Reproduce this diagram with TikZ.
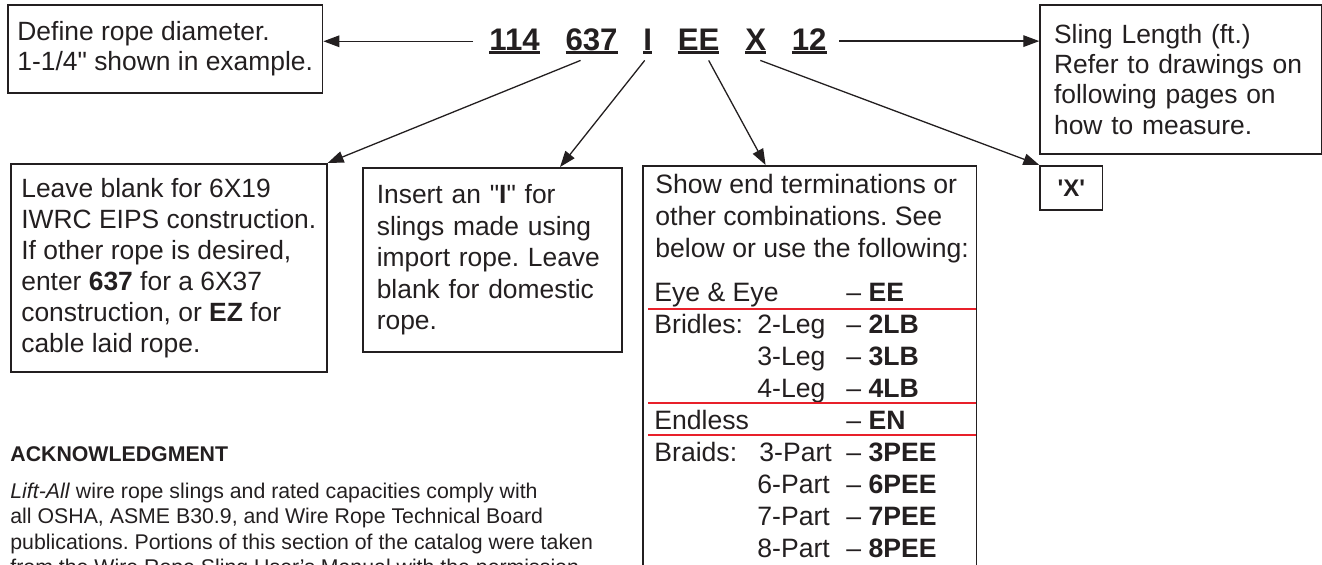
\documentclass[tikz,border=0pt]{standalone}
\usepackage{fontspec}
\setmainfont{Liberation Sans}
\usepackage{tikz}
\usetikzlibrary{arrows.meta, positioning, calc}
\frenchspacing
\definecolor{ink}{HTML}{231F20}
\definecolor{redline}{HTML}{E8202A}
\tikzstyle{note} = [rectangle, draw=ink, line width=0.8pt, text=ink, align=left, anchor=north west, font=\fontsize{13.2}{15}\selectfont]
\tikzstyle{tag} = [rectangle, draw=ink, line width=0.8pt, text=ink, anchor=north west, minimum width=31.2pt, minimum height=22pt, inner sep=0pt, font=\fontsize{12}{14}\selectfont\bfseries]
\tikzstyle{code} = [inner sep=0pt, text=ink, font=\fontsize{15.6}{18}\selectfont\bfseries]
\tikzstyle{row} = [inner sep=0pt, anchor=base west, text=ink, font=\fontsize{13.3}{16}\selectfont]
\tikzstyle{arrow} = [draw=ink, line width=0.65pt, -{Triangle[length=8pt,width=5.8pt]}]
\tikzstyle{redrule} = [draw=redline, line width=0.75pt]
\newcommand{\ucode}[1]{\setbox0=\hbox{#1}\rlap{\copy0}\rule[-2pt]{\wd0}{1.6pt}}

\begin{document}
\begin{tikzpicture}[x=0.5pt, y=-0.5pt]
  \useasboundingbox (0,0) rectangle (1322,564);
  \clip (0,0) rectangle (1322,564);
  % part number
  \node[code, anchor=base west] (c114) at (489,50) {\ucode{114}};
  \node[code, base right=12.5pt of c114] (c637) {\ucode{637}};
  \node[code, base right=12.5pt of c637] (cI) {\ucode{I}};
  \node[code, base right=12.5pt of cI] (cEE) {\ucode{EE}};
  \node[code, base right=12.5pt of cEE] (cX) {\ucode{X}};
  \node[code, base right=12.5pt of cX] (c12) {\ucode{12}};
  % notes
  \node[note, minimum width=157.4pt, minimum height=44pt] (diam) at (7,4)
    {Define rope diameter.\\ 1-1/4\textquotedbl{} shown in example.};
  \node[note, inner xsep=7pt, text width=126.7pt, minimum height=74.5pt, font=\fontsize{13.2}{15.15}\selectfont] (len) at (1039.3,4)
    {Sling Length (ft.)\\ Refer to drawings on\\ following pages on\\ how to measure.};
  \node[note, minimum width=158pt, minimum height=104pt, font=\fontsize{13.2}{15.5}\selectfont] (leave) at (10,163)
    {Leave blank for 6X19\\ IWRC EIPS construction.\\ If other rope is desired,\\ enter \textbf{637} for a 6X37\\ construction, or \textbf{EZ} for\\ cable laid rope.};
  \node[note, inner xsep=7pt, text width=115.5pt, minimum height=92pt, font=\fontsize{13.2}{15.75}\selectfont] (imp) at (362,167)
    {Insert an \textquotedbl\textbf{I}\textquotedbl{} for\\ slings made using\\ import rope. Leave\\ blank for domestic\\ rope.};
  \node[tag] (xbox) at (1039.3,165) {\textquotesingle X\textquotesingle};
  \node[note, minimum width=166.7pt, minimum height=230pt] (ends) at (642.3,165) {};
  \node[row, anchor=north west, align=left] (endtxt) at (655,173.5)
    {Show end terminations or\\ other combinations. See\\ below or use the following:};
  % terminations
  \node[row] (eye) at (654,301) {Eye \& Eye};
  \node[row] (eyec) at (846,301) {-- \textbf{EE}};
  \node[row] (bri) at (654,333) {Bridles:};
  \node[row] (leg2) at (757,333) {2-Leg};
  \node[row] (leg2c) at (846,333) {-- \textbf{2LB}};
  \node[row] (leg3) at (757,365) {3-Leg};
  \node[row] (leg3c) at (846,365) {-- \textbf{3LB}};
  \node[row] (leg4) at (757,397) {4-Leg};
  \node[row] (leg4c) at (846,397) {-- \textbf{4LB}};
  \node[row] (endl) at (654,429) {Endless};
  \node[row] (endlc) at (846,429) {-- \textbf{EN}};
  \node[row] (brd) at (654,461) {Braids:};
  \node[row] (part3) at (759,461) {3-Part};
  \node[row] (part3c) at (846,461) {-- \textbf{3PEE}};
  \node[row] (part6) at (757,493) {6-Part};
  \node[row] (part6c) at (846,493) {-- \textbf{6PEE}};
  \node[row] (part7) at (757,525) {7-Part};
  \node[row] (part7c) at (846,525) {-- \textbf{7PEE}};
  \node[row] (part8) at (757,557) {8-Part};
  \node[row] (part8c) at (846,557) {-- \textbf{8PEE}};
  \draw[redrule] (648.3,309) -- (975.7,309);
  \draw[redrule] (648.3,403) -- (975.7,403);
  \draw[redrule] (648.3,435) -- (975.7,435);
  % acknowledgment
  \node[inner sep=0pt, anchor=base west, text=ink, font=\fontsize{10.65}{12.75}\selectfont\bfseries] (ackhead) at (10,461) {ACKNOWLEDGMENT};
  \node[inner sep=0pt, anchor=north west, align=left, text=ink, font=\fontsize{10.65}{12.75}\selectfont] (acktext) at (10,482.5)
    {\textit{Lift-All} wire rope slings and rated capacities comply with\\ all OSHA, ASME B30.9, and Wire Rope Technical Board\\ publications. Portions of this section of the catalog were taken\\ from the Wire Rope Sling User's Manual with the permission};
  % arrows
  \draw[arrow, shorten <=8pt] (c114.west) -- (c114.west -| diam.east);
  \draw[arrow, shorten <=6pt] (c12.east) -- (c12.east -| len.west);
  \draw[arrow] ([xshift=-5.5pt,yshift=-3pt]c637.south) -- (leave.north east);
  \draw[arrow] ([xshift=-1.5pt,yshift=-3pt]cI.south) -- ($(imp.north west)!0.76!(imp.north east)$);
  \draw[arrow] ([xshift=5pt,yshift=-3pt]cEE.south) -- ($(ends.north west)!0.368!(ends.north east)$);
  \draw[arrow] ([xshift=2.3pt,yshift=-3pt]cX.south) -- (xbox.north west);
\end{tikzpicture}
\end{document}
